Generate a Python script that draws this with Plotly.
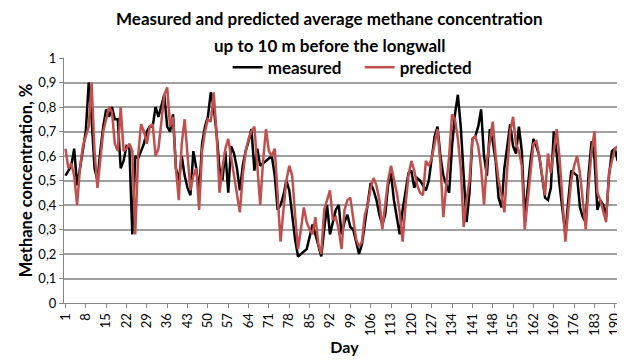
import plotly.graph_objects as go

days = list(range(1, 194))

measured = [
    0.52, 0.54, 0.56, 0.63, 0.48, 0.55, 0.62, 0.70, 0.90, 0.75,
    0.55, 0.50, 0.62, 0.72, 0.79, 0.76, 0.80, 0.75, 0.75, 0.55,
    0.58, 0.64, 0.63, 0.28, 0.60, 0.59, 0.62, 0.65, 0.70, 0.72,
    0.72, 0.80, 0.76, 0.80, 0.85, 0.72, 0.70, 0.77, 0.55, 0.50,
    0.60, 0.52, 0.47, 0.44, 0.62, 0.55, 0.45, 0.65, 0.72, 0.76,
    0.86, 0.80, 0.69, 0.55, 0.50, 0.62, 0.45, 0.64, 0.61, 0.55,
    0.46, 0.56, 0.62, 0.66, 0.71, 0.54, 0.63, 0.56, 0.57, 0.58,
    0.59, 0.60, 0.52, 0.38, 0.40, 0.44, 0.50, 0.46, 0.36, 0.26,
    0.19, 0.20, 0.21, 0.22, 0.27, 0.32, 0.28, 0.23, 0.19, 0.30,
    0.40, 0.28, 0.33, 0.38, 0.40, 0.28, 0.33, 0.36, 0.31, 0.30,
    0.25, 0.20, 0.24, 0.33, 0.42, 0.49, 0.46, 0.42, 0.36, 0.32,
    0.36, 0.48, 0.53, 0.42, 0.35, 0.28, 0.38, 0.45, 0.53, 0.54,
    0.47, 0.51, 0.50, 0.48, 0.46, 0.50, 0.58, 0.68, 0.72, 0.60,
    0.52, 0.48, 0.45, 0.64, 0.77, 0.85, 0.72, 0.52, 0.33, 0.45,
    0.67, 0.68, 0.72, 0.79, 0.60, 0.52, 0.71, 0.66, 0.58, 0.43,
    0.39, 0.55, 0.65, 0.73, 0.64, 0.61, 0.72, 0.62, 0.35, 0.48,
    0.58, 0.67, 0.64, 0.60, 0.52, 0.43, 0.42, 0.47, 0.70, 0.61,
    0.48, 0.38, 0.28, 0.42, 0.54, 0.53, 0.52, 0.39, 0.35, 0.33,
    0.53, 0.66, 0.59, 0.38, 0.42, 0.40, 0.35, 0.52, 0.62, 0.63,
    0.58, 0.62, 0.33,
]

predicted = [
    0.63, 0.55, 0.57, 0.52, 0.40, 0.55, 0.64, 0.68, 0.72, 0.90,
    0.62, 0.47, 0.60, 0.70, 0.75, 0.80, 0.78, 0.65, 0.62, 0.80,
    0.62, 0.63, 0.65, 0.62, 0.28, 0.60, 0.73, 0.70, 0.65, 0.72,
    0.73, 0.60, 0.63, 0.75, 0.85, 0.88, 0.72, 0.76, 0.55, 0.42,
    0.65, 0.75, 0.60, 0.46, 0.52, 0.55, 0.38, 0.62, 0.70, 0.75,
    0.74, 0.86, 0.69, 0.45, 0.55, 0.63, 0.67, 0.59, 0.53, 0.45,
    0.37, 0.52, 0.62, 0.67, 0.70, 0.72, 0.56, 0.40, 0.58, 0.71,
    0.62, 0.60, 0.63, 0.46, 0.25, 0.38, 0.50, 0.56, 0.52, 0.36,
    0.22, 0.30, 0.39, 0.33, 0.30, 0.28, 0.35, 0.24, 0.20, 0.38,
    0.42, 0.46, 0.34, 0.35, 0.30, 0.22, 0.38, 0.42, 0.43, 0.35,
    0.26, 0.23, 0.25, 0.36, 0.40, 0.47, 0.51, 0.48, 0.42, 0.30,
    0.40, 0.50, 0.56, 0.51, 0.45, 0.37, 0.25, 0.40, 0.52, 0.58,
    0.54, 0.48, 0.45, 0.44, 0.58, 0.56, 0.59, 0.65, 0.71, 0.57,
    0.35, 0.48, 0.60, 0.77, 0.75, 0.67, 0.55, 0.31, 0.42, 0.50,
    0.67, 0.68, 0.64, 0.55, 0.40, 0.58, 0.66, 0.74, 0.60, 0.50,
    0.44, 0.37, 0.55, 0.70, 0.76, 0.65, 0.62, 0.56, 0.30, 0.42,
    0.55, 0.65, 0.66, 0.60, 0.52, 0.44, 0.61, 0.53, 0.62, 0.71,
    0.59, 0.42, 0.25, 0.38, 0.50, 0.56, 0.60, 0.53, 0.40, 0.30,
    0.48, 0.62, 0.70, 0.45, 0.42, 0.38, 0.33, 0.53, 0.58, 0.63,
    0.64, 0.61, 0.30,
]

x_tick_vals = list(range(1, 194, 7))
x_tick_text = [str(v) for v in x_tick_vals]
y_tick_vals = [i / 10 for i in range(11)]
y_tick_text = ["0", "0,1", "0,2", "0,3", "0,4", "0,5", "0,6", "0,7", "0,8", "0,9", "1"]

title_line1 = "Measured and predicted average methane concentration"
title_line2 = "up to 10 m before the longwall"

FONT = "Lato"

fig = go.Figure()
fig.add_trace(go.Scatter(x=days, y=measured, mode="lines", name="measured",
                         line=dict(color="#000000", width=2.5), legend="legend"))
fig.add_trace(go.Scatter(x=days, y=predicted, mode="lines", name="predicted",
                         line=dict(color="#C0504D", width=2.5), legend="legend2"))

legend_font = dict(family=FONT, size=17, color="#000000", weight="bold")

# page body has an 8px margin, so the figure is sized 8px smaller to fit the window
fig.update_layout(
    width=617, height=353,
    margin=dict(l=56, r=0, t=50, b=58, autoexpand=False),
    paper_bgcolor="white", plot_bgcolor="white",
    font=dict(family=FONT, size=13, color="#000000"),
    showlegend=True,
    legend=dict(x=0.2917, y=0.96, xanchor="left", yanchor="middle",
                bgcolor="rgba(0,0,0,0)", font=legend_font, itemwidth=30),
    legend2=dict(x=0.527, y=0.96, xanchor="left", yanchor="middle",
                 bgcolor="rgba(0,0,0,0)", font=legend_font, itemwidth=30),
    annotations=[
        dict(text="<b>" + title_line1 + "</b>", x=0.474, y=1.163, xref="paper", yref="paper",
             showarrow=False, xanchor="center", yanchor="middle", font=dict(family=FONT, size=17)),
        dict(text="<b>" + title_line2 + "</b>", x=0.474, y=1.053, xref="paper", yref="paper",
             showarrow=False, xanchor="center", yanchor="middle", font=dict(family=FONT, size=17)),
    ],
)

fig.update_xaxes(
    range=[0.5, 193.5], tickmode="array", tickvals=x_tick_vals, ticktext=x_tick_text,
    tickangle=-90, ticks="outside", ticklen=4, tickcolor="#868686",
    showline=True, linecolor="#868686", linewidth=1, showgrid=False, zeroline=False,
    tickfont=dict(family=FONT, size=13, color="#000000"), automargin=False,
    title=dict(text="<b>Day</b>", font=dict(family=FONT, size=16), standoff=6),
)
fig.update_yaxes(
    range=[0, 1], tickmode="array", tickvals=y_tick_vals, ticktext=y_tick_text,
    ticks="outside", ticklen=4, tickcolor="#868686",
    showline=True, linecolor="#868686", linewidth=1,
    showgrid=True, gridcolor="#A0A0A0", gridwidth=1.5, zeroline=False,
    tickfont=dict(family=FONT, size=13, color="#000000"), automargin=False,
    title=dict(text="<b>Methane concentration, %</b>", font=dict(family=FONT, size=16.5), standoff=1),
)

fig.write_html("out.html")
